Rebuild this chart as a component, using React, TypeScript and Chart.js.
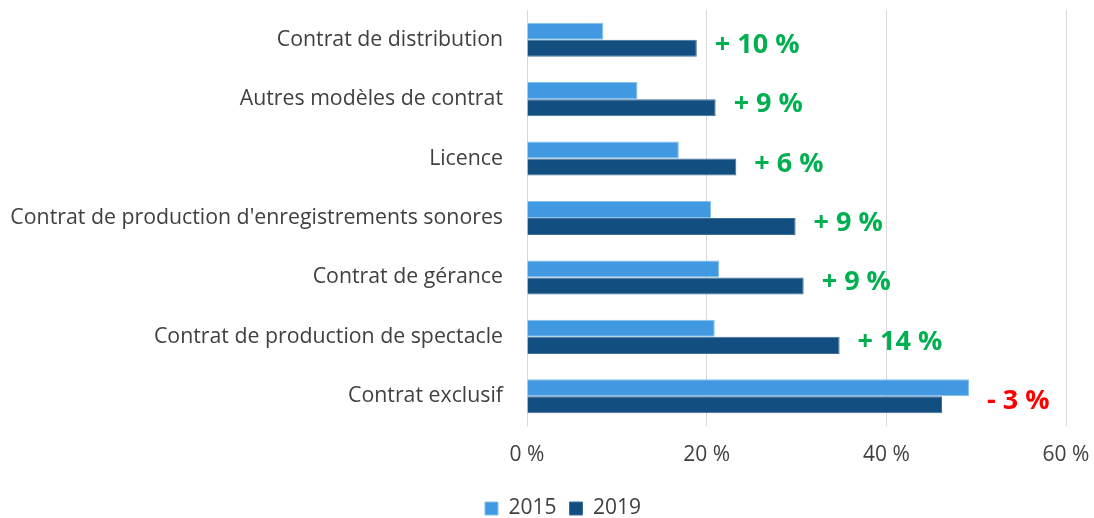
import React, { useEffect, useRef } from "react";
import { Chart, registerables } from "chart.js";

Chart.register(...registerables);

const categories = [
  "Contrat de distribution",
  "Autres modèles de contrat",
  "Licence",
  "Contrat de production d'enregistrements sonores",
  "Contrat de gérance",
  "Contrat de production de spectacle",
  "Contrat exclusif",
];
const values2015 = [8.5, 12.3, 16.9, 20.5, 21.4, 20.9, 49.2];
const values2019 = [18.9, 21.0, 23.3, 29.9, 30.8, 34.8, 46.2];
const changeLabels = ["+ 10 %", "+ 9 %", "+ 6 %", "+ 9 %", "+ 9 %", "+ 14 %", "- 3 %"];
const xTicks = [0, 20, 40, 60];

const FONT = "'Open Sans', sans-serif";
const TEXT = "#404040";

const changeLabelPlugin = {
  id: "changeLabels",
  afterLayout(chart: any) {
    if (chart.legend) {
      chart.legend.left += 30;
      chart.legend.right += 30;
    }
  },
  afterDatasetsDraw(chart: any) {
    const ctx = chart.ctx;
    const m0 = chart.getDatasetMeta(0);
    const m1 = chart.getDatasetMeta(1);
    ctx.save();
    ctx.font = `bold 27px ${FONT}`;
    ctx.textAlign = "left";
    ctx.textBaseline = "alphabetic";
    changeLabels.forEach((txt, i) => {
      const b0 = m0.data[i];
      const b1 = m1.data[i];
      const xEnd = Math.max(b0.x, b1.x);
      const cy = (b0.y + b1.y) / 2;
      ctx.fillStyle = txt.trim().startsWith("-") ? "#FF0000" : "#00B050";
      ctx.fillText(txt, xEnd + 18, cy + 13);
    });
    ctx.restore();
  },
};

export default function App() {
  const ref = useRef<HTMLCanvasElement | null>(null);
  useEffect(() => {
    document.body.style.margin = "0";
    const chart = new Chart(ref.current as HTMLCanvasElement, {
      type: "bar",
      data: {
        labels: categories,
        datasets: [
          {
            label: "2015",
            data: values2015,
            backgroundColor: "#419AE1",
            borderColor: "#86C0EC",
            borderWidth: 1,
            categoryPercentage: 0.573,
            barPercentage: 1,
          },
          {
            label: "2019",
            data: values2019,
            backgroundColor: "#124F80",
            borderColor: "#3F6F99",
            borderWidth: 1,
            categoryPercentage: 0.573,
            barPercentage: 1,
          },
        ],
      },
      options: {
        indexAxis: "y",
        animation: false,
        responsive: false,
        layout: { padding: { top: 10, right: 28, bottom: -11, left: 0 } },
        scales: {
          x: {
            min: 0,
            max: 60,
            afterBuildTicks: (scale: any) => {
              scale.ticks = xTicks.map((v) => ({ value: v }));
            },
            afterFit: (scale: any) => {
              scale.height = 59;
              scale.paddingLeft = 0;
              scale.paddingRight = 0;
            },
            grid: { color: "#D9D9D9", lineWidth: 1, drawTicks: false },
            border: { display: false },
            ticks: {
              padding: 16,
              color: TEXT,
              font: { family: FONT, size: 21 },
              callback: (v: any) => `${v} %`,
            },
          },
          y: {
            afterFit: (scale: any) => {
              scale.width = 527;
              scale.paddingTop = 0;
              scale.paddingBottom = 0;
            },
            grid: { display: false, drawTicks: false },
            border: { display: false },
            ticks: {
              padding: 24,
              color: TEXT,
              font: { family: FONT, size: 21.3 },
            },
          },
        },
        plugins: {
          legend: {
            position: "bottom",
            labels: {
              boxWidth: 13,
              boxHeight: 13,
              padding: 13,
              color: TEXT,
              font: { family: FONT, size: 21 },
            },
          },
          tooltip: { enabled: false },
        },
      },
      plugins: [changeLabelPlugin],
    });
    return () => chart.destroy();
  }, []);
  return (
    <div style={{ width: 1094, height: 518 }}>
      <canvas ref={ref} width={1094} height={518} style={{ display: "block" }} />
    </div>
  );
}
